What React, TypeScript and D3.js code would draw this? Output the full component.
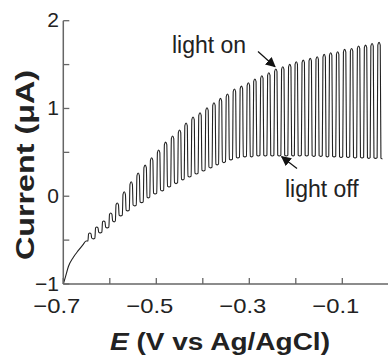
import React from "react";
import * as d3 from "d3";

const DARK_E = [-0.7, -0.696, -0.689, -0.679, -0.668, -0.658, -0.651];
const DARK_I = [-1.0, -0.93, -0.8, -0.7, -0.62, -0.555, -0.51];

const PEAK_E = [-0.643,-0.628,-0.613,-0.598,-0.584,-0.569,-0.554,-0.539,-0.524,-0.510,-0.495,-0.480,-0.465,-0.450,-0.436,-0.421,-0.406,-0.391,-0.376,-0.362,-0.347,-0.332,-0.317,-0.302,-0.288,-0.273,-0.258,-0.243,-0.228,-0.213,-0.199,-0.184,-0.169,-0.154,-0.139,-0.125,-0.110,-0.095,-0.080,-0.065,-0.050,-0.036,-0.021];
const I_ON = [-0.419,-0.351,-0.282,-0.191,-0.077,0.051,0.165,0.264,0.355,0.439,0.526,0.617,0.686,0.754,0.834,0.902,0.951,1.008,1.065,1.115,1.164,1.221,1.255,1.293,1.335,1.372,1.407,1.449,1.475,1.502,1.532,1.551,1.571,1.589,1.616,1.634,1.646,1.673,1.684,1.711,1.722,1.741,1.753];
const I_OFF = [-0.476,-0.408,-0.351,-0.282,-0.214,-0.157,-0.100,-0.063,-0.009,0.036,0.071,0.116,0.154,0.196,0.230,0.264,0.298,0.333,0.367,0.393,0.424,0.446,0.458,0.458,0.469,0.469,0.469,0.469,0.469,0.469,0.469,0.469,0.464,0.464,0.458,0.458,0.452,0.452,0.446,0.446,0.441,0.441,0.435];

const X_TICKS = [-0.7, -0.6, -0.5, -0.4, -0.3, -0.2, -0.1];
const X_LABELS = [-0.7, -0.5, -0.3, -0.1];
const Y_TICKS = [-1, -0.5, 0, 0.5, 1, 1.5, 2];
const Y_LABELS = [-1, 0, 1, 2];

export default function App() {
  const W = 388, H = 355;
  const x = d3.scaleLinear().domain([-0.7, 0]).range([63.3, 388.8]);
  const y = d3.scaleLinear().domain([-1, 2]).range([284, 20.7]);
  const h = 0.0037;

  const pts: [number, number][] = [];
  DARK_E.forEach((e, i) => pts.push([e, DARK_I[i]]));
  PEAK_E.forEach((p, i) => {
    const offPrev = i === 0 ? DARK_I[DARK_I.length - 1] : I_OFF[i - 1];
    const on = I_ON[i];
    const off = I_OFF[i];
    const amp = on - Math.max(offPrev, off);
    const r = Math.min(0.03, Math.abs(amp) * 0.15);
    pts.push([p - 1.1 * h, offPrev]);
    pts.push([p - 0.7 * h, on - r]);
    pts.push([p, on]);
    pts.push([p + 0.7 * h, on - r]);
    pts.push([p + 1.1 * h, off]);
    pts.push([p + 2 * h, off - 0.01]);
  });

  const line = d3
    .line<[number, number]>()
    .x((d) => x(d[0]))
    .y((d) => y(d[1]))
    .curve(d3.curveMonotoneX);

  const fmt = d3.format(".1f");
  const axisColor = "#666";
  const textColor = "#222";
  const font = "Liberation Sans, Arial, Helvetica, sans-serif";

  return (
    <svg
      width={W}
      height={H}
      style={{ position: "absolute", left: 0, top: 0, background: "#fff" }}
      fontFamily={font}
    >
      <defs>
        <marker id="ah" viewBox="0 0 10 10" refX="9" refY="5" markerWidth="10" markerHeight="10" markerUnits="userSpaceOnUse" orient="auto">
          <path d="M0,0 L10,5 L0,10 z" fill="#111" />
        </marker>
      </defs>
      <path d={line(pts) || ""} fill="none" stroke="#222" strokeWidth={1.1} />
      <line x1={x(-0.7)} x2={x(-0.7)} y1={y(2)} y2={y(-1)} stroke={axisColor} strokeWidth={1.5} />
      <line x1={x(-0.7)} x2={W} y1={y(-1)} y2={y(-1)} stroke={axisColor} strokeWidth={1.5} />
      {Y_TICKS.map((t) => (
        <line key={"yt" + t} x1={x(-0.7)} x2={x(-0.7) + 6} y1={y(t)} y2={y(t)} stroke={axisColor} strokeWidth={1.3} />
      ))}
      {X_TICKS.map((t) => (
        <line key={"xt" + t} x1={x(t)} x2={x(t)} y1={y(-1)} y2={y(-1) - 6} stroke={axisColor} strokeWidth={1.3} />
      ))}
      {Y_LABELS.map((t) => (
        <text key={"yl" + t} x={59} y={y(t) - 1} dy="0.36em" textAnchor="end" fontSize={21} fill={textColor}>
          {d3.format("d")(t)}
        </text>
      ))}
      {X_LABELS.map((t) => (
        <text
          key={"xl" + t}
          x={x(t) - 30}
          y={313}
          fontSize={21}
          textLength={47}
          lengthAdjust="spacingAndGlyphs"
          fill={textColor}
        >
          {fmt(t)}
        </text>
      ))}
      <text x={110} y={350} fontSize={23} fontWeight="bold" fill={textColor} textLength={220} lengthAdjust="spacingAndGlyphs">
        <tspan fontStyle="italic">E</tspan> (V vs Ag/AgCl)
      </text>
      <text
        transform={`translate(34,260) rotate(-90)`}
        fontSize={25}
        fontWeight="bold"
        fill={textColor}
        textLength={190}
        lengthAdjust="spacingAndGlyphs"
      >
        Current (μA)
      </text>
      <text x={172} y={53} fontSize={23} fill={textColor}>light on</text>
      <text x={285} y={197} fontSize={23} fill={textColor}>light off</text>
      <line x1={258} y1={51.5} x2={275} y2={66.7} stroke="#111" strokeWidth={1.2} markerEnd="url(#ah)" />
      <line x1={297} y1={168.5} x2={281.7} y2={156.7} stroke="#111" strokeWidth={1.2} markerEnd="url(#ah)" />
    </svg>
  );
}
